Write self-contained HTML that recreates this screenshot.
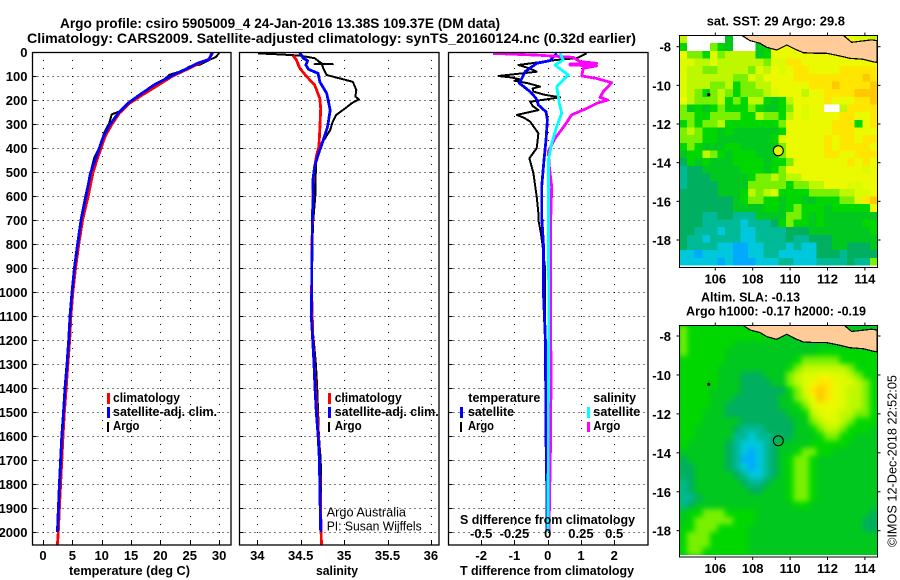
<!DOCTYPE html>
<html lang="en">
<head>
<meta charset="utf-8">
<title>Argo profile csiro 5905009_4</title>
<style>
html,body{margin:0;padding:0;background:#fff;width:900px;height:580px;overflow:hidden}
svg{display:block}
text{font-family:"Liberation Sans",sans-serif;fill:#000}
.b{font-weight:bold}
.t{font-size:14px;font-weight:bold}
.s{font-size:13px;font-weight:bold}
.n{font-size:12.5px}
</style>
</head>
<body>
<svg id="chart" xmlns="http://www.w3.org/2000/svg" width="900" height="580" viewBox="0 0 900 580">
<defs>
<clipPath id="clip-p1"><rect x="32" y="52" width="199" height="493"/></clipPath>
<clipPath id="clip-p2"><rect x="239" y="52" width="200" height="493"/></clipPath>
<clipPath id="clip-p3"><rect x="448" y="52" width="200" height="493"/></clipPath>
<clipPath id="clip-m1"><rect x="679.5" y="35.5" width="198" height="232"/></clipPath>
<clipPath id="clip-m2"><rect x="679.5" y="325.5" width="198" height="231.5"/></clipPath>
<filter id="soft" x="-5%" y="-5%" width="110%" height="110%" color-interpolation-filters="sRGB"><feGaussianBlur stdDeviation="2.6"/></filter>
</defs>

<g id="grids"></g>
<g id="series"></g>
<g id="frames"></g>
<g id="maps"></g>
<g id="ticklabels"></g>

<text class="t" x="60" y="28" textLength="440" lengthAdjust="spacingAndGlyphs">Argo profile: csiro 5905009_4 24-Jan-2016 13.38S 109.37E (DM data)</text>
<text class="t" x="27" y="43" textLength="609" lengthAdjust="spacingAndGlyphs">Climatology: CARS2009. Satellite-adjusted climatology: synTS_20160124.nc (0.32d earlier)</text>

<text class="s" x="69" y="575" textLength="121" lengthAdjust="spacingAndGlyphs">temperature (deg C)</text>
<text class="s" x="316" y="575" textLength="42" lengthAdjust="spacingAndGlyphs">salinity</text>
<text class="s" x="460" y="575" textLength="174" lengthAdjust="spacingAndGlyphs">T difference from climatology</text>

<g>
<rect x="107" y="393" width="3" height="11" fill="#ff0000"/>
<text class="s" x="113" y="402" textLength="67" lengthAdjust="spacingAndGlyphs">climatology</text>
<rect x="107" y="407" width="3" height="11" fill="#0000ff"/>
<text class="s" x="113" y="416" textLength="104" lengthAdjust="spacingAndGlyphs">satellite-adj. clim.</text>
<rect x="107" y="422" width="2" height="10" fill="#000"/>
<text class="s" x="113" y="430" textLength="26.5" lengthAdjust="spacingAndGlyphs">Argo</text>
</g>

<g>
<rect x="328" y="393" width="3" height="11" fill="#ff0000"/>
<text class="s" x="334.7" y="402" textLength="67" lengthAdjust="spacingAndGlyphs">climatology</text>
<rect x="328" y="407" width="3" height="11" fill="#0000ff"/>
<text class="s" x="334.7" y="416" textLength="104" lengthAdjust="spacingAndGlyphs">satellite-adj. clim.</text>
<rect x="328" y="422" width="2" height="10" fill="#000"/>
<text class="s" x="334.7" y="430" textLength="27" lengthAdjust="spacingAndGlyphs">Argo</text>
</g>

<text class="n" x="326.7" y="516.7" textLength="79.3" lengthAdjust="spacingAndGlyphs">Argo Australia</text>
<text class="n" x="326.7" y="530.7" textLength="95" lengthAdjust="spacingAndGlyphs">PI: Susan Wijffels</text>

<g>
<text class="s" x="468.3" y="402" textLength="72" lengthAdjust="spacingAndGlyphs">temperature</text>
<rect x="460" y="407" width="3" height="11" fill="#0000ff"/>
<text class="s" x="468" y="416" textLength="46" lengthAdjust="spacingAndGlyphs">satellite</text>
<rect x="460" y="422" width="2" height="10" fill="#000"/>
<text class="s" x="468" y="430" textLength="26" lengthAdjust="spacingAndGlyphs">Argo</text>
<text class="s" x="593.3" y="402" textLength="42.7" lengthAdjust="spacingAndGlyphs">salinity</text>
<rect x="587" y="407" width="3" height="11" fill="#00ffff"/>
<text class="s" x="593.3" y="416" textLength="47" lengthAdjust="spacingAndGlyphs">satellite</text>
<rect x="587" y="422" width="3" height="10" fill="#ff00ff"/>
<text class="s" x="593.3" y="430" textLength="27" lengthAdjust="spacingAndGlyphs">Argo</text>
<text class="s" x="460" y="524" textLength="175" lengthAdjust="spacingAndGlyphs">S difference from climatology</text>
</g>

<text class="s" x="706.7" y="25.7" textLength="138.3" lengthAdjust="spacingAndGlyphs">sat. SST: 29 Argo: 29.8</text>
<text class="s" x="701" y="301.7" textLength="99" lengthAdjust="spacingAndGlyphs">Altim. SLA: -0.13</text>
<text class="s" x="686" y="315.7" textLength="180" lengthAdjust="spacingAndGlyphs">Argo h1000: -0.17 h2000: -0.19</text>
<text class="n" transform="translate(896.5,547) rotate(-90)" x="0" y="0" textLength="172" lengthAdjust="spacingAndGlyphs">©IMOS 12-Dec-2018 22:52:05</text>

<script>
// ---------- chart data ----------
const depthTicks = [0,100,200,300,400,500,600,700,800,900,1000,1100,1200,1300,1400,1500,1600,1700,1800,1900,2000];
const tempTicks = [0,5,10,15,20,25,30];
const salTicks = [34,34.5,35,35.5,36];
const salTickLabels = ["34","34.5","35","35.5","36"];
const tDiffTicks = [-2,-1,0,1,2];
const sDiffTicks = [-0.5,-0.25,0,0.25,0.5];
const sDiffTickLabels = ["-0.5","-0.25","0","0.25","0.5"];
const lonTicks = [106,108,110,112,114];
const latTicks = [-8,-10,-12,-14,-16,-18];

const tempArgoDepth = [4,20,35,53,60,80,94,129,150,185,220,247,260,296,338,393,442,504,601,700,800,900,1000,1100,1200,1300,1400,1500,1600,1700,1800,1900,2000];
const tempArgo = [30,29.5,28.2,26.7,25,23.6,21.6,19.9,18.2,16.5,14.3,13.1,11.7,11.3,10.4,9.7,8.7,8.1,7.2,6.4,5.85,5.3,4.9,4.55,4.35,4.05,3.75,3.5,3.25,3.05,2.85,2.7,2.55];
const tempClimDepth = [4,29,46,67,100,143,178,213,255,303,351,393,449,504,601,700,800,900,1000,1100,1200,1300,1400,1500,1600,1700,1800,1900,2000,2054];
const tempClim = [28.7,28.4,26.7,25,22.1,19.3,17,14.8,13,11.7,10.6,10,9.2,8.5,7.7,6.75,6.1,5.55,5.1,4.75,4.55,4.25,3.95,3.65,3.4,3.2,3,2.8,2.6,2.45];
const tempSatDepth = [4,32,46,67,99,136,178,213,255,303,351,393,449,504,601,700,800,900,1000,1100,1200,1300,1400,1500,1600,1700,1800,1900,2000];
const tempSat = [28.9,28.2,26.4,24.7,21.9,19,16.5,14.5,12.8,11.4,10.3,9.7,8.9,8.1,7.33,6.47,5.9,5.35,4.94,4.6,4.38,4.09,3.75,3.5,3.2,3,2.8,2.62,2.45];

const salArgoDepth = [6,10,15,26,47,51,51,51,47,68,96,110,124,158,186,197,213,233,262,290,325,360,401,450,533,600,700,800,900,1000,1100,1200,1300,1400,1500,1600,1700,1800,1900,2000];
const salArgo = [34.01,34.26,34.49,34.66,34.74,34.66,34.87,34.74,34.74,34.76,34.8,34.95,35.1,35.14,35.13,35.17,35.09,35.02,34.91,34.87,34.84,34.78,34.7,34.68,34.67,34.668,34.645,34.634,34.627,34.627,34.622,34.65,34.675,34.69,34.7,34.71,34.73,34.735,34.735,34.735];
const salClimDepth = [15,33,68,103,137,193,235,325,394,436,505,600,800,1000,1200,1400,1600,1800,2000,2054];
const salClim = [34.41,34.45,34.49,34.57,34.66,34.72,34.73,34.72,34.71,34.68,34.65,34.64,34.63,34.625,34.64,34.67,34.705,34.725,34.735,34.74];
const salSatDepth = [2,26,36,54,72,89,124,172,242,311,367,429,478,533,600,700,800,900,1000,1100,1200,1300,1400,1500,1600,1700,1800,1900,2000];
const salSat = [34.49,34.53,34.58,34.56,34.59,34.7,34.72,34.8,34.84,34.81,34.76,34.7,34.66,34.64,34.645,34.634,34.634,34.627,34.627,34.622,34.638,34.653,34.665,34.68,34.7,34.715,34.72,34.725,34.73];

const dTempArgoDepth = [6,26,33,54,68,82,89,100,106,114,120,130,144,152,165,178,189,207,225,242,262,275,290,339,401,443,505,603,672,700,750,800,900,1100,1200,1400,2000];
const dTempArgo = [1.17,0.87,0.27,-0.88,-0.55,-0.33,-0.78,-1.48,-1.1,-0.83,-1.0,-0.6,-0.23,-0.45,-0.43,-0.1,0.37,-0.53,-0.45,-0.28,-0.93,-0.7,-0.53,-0.28,-0.33,-0.55,-0.43,-0.33,-0.28,-0.28,-0.21,-0.16,-0.08,-0.08,-0.06,-0.05,-0.02];
const dTempSatDepth = [6,36,47,82,130,165,193,221,249,283,367,450,561,686,800,1000,1100,1200,1400,1600,1800,2000];
const dTempSat = [0.27,0.07,-0.33,-0.68,-0.85,-0.53,-0.35,-0.28,-0.05,-0.01,-0.05,-0.11,-0.18,-0.18,-0.13,-0.13,-0.1,-0.07,-0.06,-0.05,-0.03,-0.02];
const dSalSatDepth = [6,33,54,96,144,214,255,311,380,450,575,686,1100,1400,2000];
const dSalSat = [0.092,0.117,0.055,0.155,0.068,0.087,0.105,0.068,0.03,0.005,0.005,0.005,0.008,0.005,0.002];
const dSalArgoDepth = [6,13,22,40,47,50,54,58,68,100,110,128,165,189,200,214,235,262,304,360,415,478,561,686,1000,1200,1300,1430,1660,2000];
const dSalArgo = [-0.41,-0.083,0.19,0.243,0.368,0.168,0.168,0.368,0.268,0.256,0.368,0.481,0.418,0.393,0.451,0.368,0.293,0.18,0.13,0.055,0.005,0.012,0.03,0.023,0.02,0.021,0.027,0.024,0.02,0.01];

// Colour-level rows read from the maps (each letter is one colour level, w = no data)
const sstRows = [
"hwwwwwewwwjjjjjjjjjjjjjiih","fwwwgfewwwefjjjjjjjjjjjjjj","jggfighhhhefjjjjjjjjjjjjjj","iihhihhhhhhgiikkjjjjjjjjjj",
"ihhgghhhhgihjijkkjjjjkkkkk","ihhhhhhggihjjjjkkkkkkkkklk","ihhhgghfgghhjjjjjkkklkkkkl","ihgfghgfggghijjjhjjkkkklll",
"jhggghfgfhhfefhjjjjkjjjkkl","gefefgfffgfeefgjijjwwhkkkk","ggffggggffhggfhjijjjjkkjjk","fgfgghfffffffgjjjjjjkkkfjk",
"ghgffefeeeeeefjjjjjjkkkjjj","gggffeeeeeeefijjjjjkjkkjkk","fgfeeeffeeeeegjjjjjkjkkkkj","effhgfefffeeegjjjjjkkjjkkk",
"dfefeeeffffeffgjjjjjjjkjkj","cddeeeeefffefgjjjjjjjjjjij","cdddeeeeefgghghhjjjjjjjjjj","cddddeeeegggggfgghhjjjiijj",
"dddddeeefhghiffffgggghhiij","dddddddefggffeffeefffggikl","dddddddeeeeffefgfffefffffj","dddccddccceeeeggfefeeeeeee",
"dddcccccbcccdfgffefeeeeeff","ddcccbccbbccccdddeeeeeeeef","dccbccccbbccccdccdddeeeeee","dccccbbaabbcccbcbbddeeddde",
"bbabbbbaabbccbbbbbdddcdddd","bbbbbabaaabbbccbbbccccdccg"
];
const slaRows = [
"gffffffffffffeeeeeeeeeeeee","gffffffffffffeeeeeeeeeeeee","gffffffeeeeeeeeeeeeeeeeeee","gfffffeeeeeeeeeeeeffffffff",
"ffffffeeeeeeeeefgggggfffff","fffffeeeeeeeeefghhhhhhgfff","fffffeeedddeeeghiijjiihgff","fffffeeeddddeeghijkkjiihgf",
"ffffeeeeddddddfgiklkjihhgf","ffffeeeddddddeeghjlkjihhgf","ffffeedddddddeefgijjjihhgf","fffeeeddddddddeefhijihhggf",
"fffeeeeedddddddeeghiihgfff","ffeeeeedcccddddeefghhgfffe","ffeeeeeccbccdddeeefggffeee","feeeeedcbbbcdeeeefffffeeee",
"eeeeeedcbabcdeefggffeeeeee","deeeeedcaabcdefggfeeeeeeee","ddeeeedcbabcdefggfeeeeeeee","ddeeeeedcbbcdefggfeeeeeeee",
"cdeeeeeedccdeefggfeeeeeeee","cdeeeeeeeddeeefggfeeeeeeee","ccdeeeeeeeeeeefggfeeeeeeee","cdeeeeeeeeeeeeeffeeeeeeeee",
"effgggffffeeeeeeeeeeeeeeed","efgggggfffeeeeeeeeeeeeeedd","ffgggffffeeeeeeeeeeeeeeedd","fgggfffffeeeeeeeeeeeeeeeee",
"fgggfffffeeeeeeeeeeeeeeeee","fggffffffeeeeeeeeeeeeeeeee"
];
const coastLon = [107.41,107.86,108.39,108.75,109.28,109.82,110.26,110.71,111.42,111.96,112.67,113.2,113.91,114.45,114.66,114.66,114.36,113.91,113.29,112.84,107.41];
const coastLat = [-7.41,-7.69,-7.82,-8.03,-8.17,-7.91,-8.13,-8.31,-8.34,-8.34,-8.48,-8.6,-8.65,-8.78,-8.81,-7.69,-7.65,-7.7,-7.77,-7.41,-7.41];
const islandLon = [105.65];
const islandLat = [-10.48];
const floatLon = [109.37];
const floatLat = [-13.38];
const levelColors = {a:"#00aaff",b:"#00c8dc",c:"#00b996",d:"#00af5f",e:"#00c81e",f:"#00d700",g:"#78f000",h:"#bef800",i:"#dcfa00",j:"#ebfa00",k:"#ffe600",l:"#ffc800",w:"#ffffff"};

// ---------- axis functions ----------
const yDepth = d => 52 + d * 0.24;
const xTemp = v => 43 + v * 5.87;
const xSal = v => 257.3 + (v - 34) * 86.8;
const xTDiff = v => 547.7 + v * 33.25;
const xSDiff = v => 547.7 + v * 133;
const xLon = v => 715.3 + (v - 106) * 18.7;
const yLat1 = v => 46.7 + (-8 - v) * 19.33;
const yLat2 = v => 336 + (-8 - v) * 19.47;

const NS = "http://www.w3.org/2000/svg";
function mk(tag, parent, attrs) {
  const el = document.createElementNS(NS, tag);
  for (const k in attrs) el.setAttribute(k, attrs[k]);
  parent.appendChild(el);
  return el;
}
const grids = document.getElementById("grids");
const series = document.getElementById("series");
const frames = document.getElementById("frames");
const maps = document.getElementById("maps");
const labels = document.getElementById("ticklabels");

function hline(x0, x1, y) {
  const l = mk("line", grids, {x1:x0, x2:x1, y1:Math.round(y)+0.5, y2:Math.round(y)+0.5, stroke:"#000", "stroke-width":1, "stroke-dasharray":"1 4", "shape-rendering":"crispEdges"});
  
  
  const t = mk("line", frames, {x1:x0, x2:x0+4, y1:Math.round(y)+0.5, y2:Math.round(y)+0.5, stroke:"#000", "stroke-width":1, "shape-rendering":"crispEdges"});
  
  
}
function vline(x, y0, y1) {
  const l = mk("line", grids, {x1:Math.round(x)+0.5, x2:Math.round(x)+0.5, y1:y0, y2:y1, stroke:"#000", "stroke-width":1, "stroke-dasharray":"1 7", "shape-rendering":"crispEdges"});
  
  
  const t = mk("line", frames, {x1:Math.round(x)+0.5, x2:Math.round(x)+0.5, y1:y1, y2:y1-4, stroke:"#000", "stroke-width":1, "shape-rendering":"crispEdges"});
  
  
}
function label(txt, x, y, anchor) {
  const t = mk("text", labels, {x:x, y:y, "text-anchor":anchor, class:"s"});
  t.textContent = txt;
  
  
}
function profile(depths, values, xf, color, width, clip, name) {
  const pts = values.map((v, i) => xf(v).toFixed(1) + "," + yDepth(depths[i]).toFixed(1)).join(" ");
  const p = mk("polyline", series, {points:pts, fill:"none", stroke:color, "stroke-width":width, "clip-path":"url(#" + clip + ")", "stroke-linejoin":"round", "shape-rendering":"crispEdges"});
  
  
}

const panels = [[32.5,231],[239.5,439],[448.5,648]];
panels.forEach(([x0,x1]) => {
  depthTicks.forEach(d => hline(x0, x1, yDepth(d)));
  const f = mk("rect", frames, {x:x0, y:52.5, width:x1-x0, height:492.5, fill:"none", stroke:"#000", "stroke-width":1.3});
  
  
});
tempTicks.forEach(v => { vline(xTemp(v), 52, 545); label(String(v), xTemp(v), 560, "middle"); });
salTicks.forEach((v,i) => { vline(xSal(v), 52, 545); label(salTickLabels[i], xSal(v), 560, "middle"); });
tDiffTicks.forEach(v => { vline(xTDiff(v), 52, 545); label(String(v), xTDiff(v), 560, "middle"); });
sDiffTicks.forEach((v,i) => label(sDiffTickLabels[i], xSDiff(v), 538, "middle"));
depthTicks.forEach(d => label(String(d), 27.5, yDepth(d) + 5, "end"));

profile(tempArgoDepth, tempArgo, xTemp, "#000", 2, "clip-p1", "temperature-argo-line");
profile(tempClimDepth, tempClim, xTemp, "#ff0000", 2.8, "clip-p1", "temperature-climatology-line");
profile(tempSatDepth, tempSat, xTemp, "#0000ff", 2.8, "clip-p1", "temperature-satellite-line");
profile(salArgoDepth, salArgo, xSal, "#000", 2, "clip-p2", "salinity-argo-line");
profile(salClimDepth, salClim, xSal, "#ff0000", 2.8, "clip-p2", "salinity-climatology-line");
profile(salSatDepth, salSat, xSal, "#0000ff", 2.8, "clip-p2", "salinity-satellite-line");
profile(dTempArgoDepth, dTempArgo, xTDiff, "#000", 2, "clip-p3", "t-diff-argo-line");
profile(dTempSatDepth, dTempSat, xTDiff, "#0000ff", 2.8, "clip-p3", "t-diff-satellite-line");
profile(dSalArgoDepth, dSalArgo, xSDiff, "#ff00ff", 2.8, "clip-p3", "s-diff-argo-line");
profile(dSalSatDepth, dSalSat, xSDiff, "#00ffff", 2.8, "clip-p3", "s-diff-satellite-line");

function drawMap(rows, top, bottom, yLat, clipId, soft, mapName, markerFill) {
  const left = 679.5, right = 877.5;
  const root = mk("g", maps, {"clip-path":"url(#" + clipId + ")"});
  
  
  const base = mk("rect", root, {x:left-10, y:top-10, width:right-left+20, height:bottom-top+20, fill:soft ? "#00c81e" : "#ffffff"});
  
  
  const cells = mk("g", root, soft ? {filter:"url(#soft)"} : {});
  
  
  const cw = (right-left)/26, ch = (bottom-top-2)/rows.length;
  rows.forEach((row, r) => {
    row.split("").forEach((code, c) => {
      const cell = mk("rect", cells, {x:(left+c*cw).toFixed(2), y:(top+r*ch).toFixed(2), width:(cw+0.4).toFixed(2), height:(ch+0.4).toFixed(2), fill:levelColors[code], "shape-rendering":"crispEdges"});
      
      
    });
  });
  const strip = mk("rect", root, {x:left, y:bottom-2, width:right-left, height:3, fill:"#fff"});
  
  
  const land = mk("polygon", root, {points:coastLon.map((v,i) => xLon(v).toFixed(1)+","+yLat(coastLat[i]).toFixed(1)).join(" "), fill:"#ffcc99", stroke:"#000", "stroke-width":1.2, "shape-rendering":"crispEdges"});
  
  
  islandLon.forEach((v,i) => {
    const isl = mk("circle", root, {cx:xLon(v), cy:yLat(islandLat[i]), r:1.6, fill:"#000"});
    
    
  });
  floatLon.forEach((v,i) => {
    const m = mk("circle", root, {cx:xLon(v), cy:yLat(floatLat[i]), r:5, fill:markerFill, stroke:"#000", "stroke-width":1.1});
    
    
  });
  const fr = mk("rect", maps, {x:left, y:top, width:right-left, height:bottom-top, fill:"none", stroke:"#000", "stroke-width":1});
  
  
  lonTicks.forEach(v => {
    [[top,top-3],[bottom,bottom+3]].forEach(([a,b]) => {
      const t = mk("line", maps, {x1:xLon(v), x2:xLon(v), y1:a, y2:b, stroke:"#000"});
      
      
    });
    label(String(v), xLon(v), bottom + 16, "middle");
  });
  latTicks.forEach(v => {
    [[left,left-3],[right,right+3]].forEach(([a,b]) => {
      const t = mk("line", maps, {x1:a, x2:b, y1:yLat(v), y2:yLat(v), stroke:"#000"});
      
      
    });
    label(String(v), 671, yLat(v) + 5, "end");
  });
}
drawMap(sstRows, 35.5, 267.5, yLat1, "clip-m1", false, "sst-map", "#e1f500");
drawMap(slaRows, 325.5, 557, yLat2, "clip-m2", true, "sla-map", "none");
</script>
</svg>
</body>
</html>
